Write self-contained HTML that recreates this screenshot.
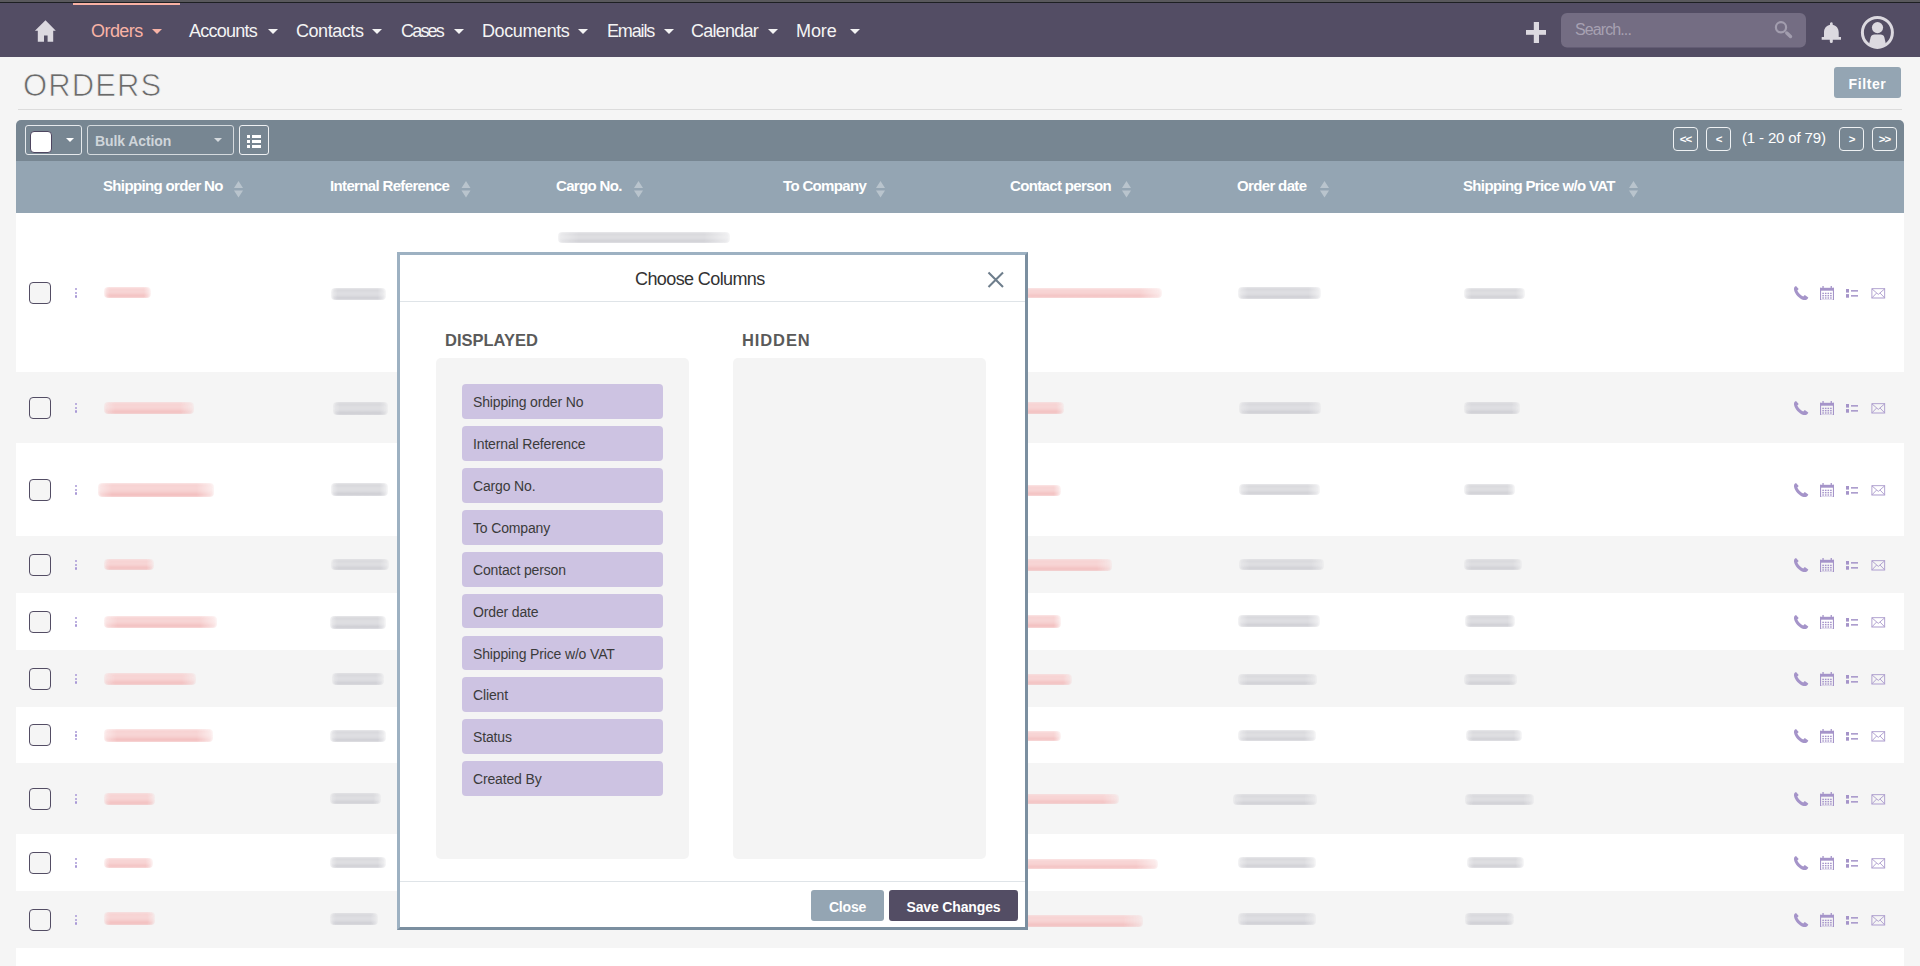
<!DOCTYPE html>
<html><head><meta charset="utf-8">
<style>
*{box-sizing:border-box;margin:0;padding:0}
html,body{width:1920px;height:966px;overflow:hidden;background:#f5f5f5;font-family:"Liberation Sans",sans-serif;position:relative}
.abs{position:absolute}
#topstrip{left:0;top:0;width:1920px;height:3px;background:linear-gradient(180deg,#59585c 0,#59585c 2px,#1d1f22 2px)}
#nav{left:0;top:3px;width:1920px;height:54px;background:#534d64}
.nv{position:absolute;top:20px;font-size:18px;color:#f4f4f4;letter-spacing:-0.75px;line-height:22px;white-space:nowrap}
.car{position:absolute;top:29px;width:0;height:0;border-left:5px solid transparent;border-right:5px solid transparent;border-top:5px solid #f4f4f4}
#title{left:23px;top:68px;font-size:31px;color:#6a6a6a;letter-spacing:1.1px;line-height:36px;font-weight:400;-webkit-text-stroke:0.7px #f5f5f5}
#hr{left:18px;top:109px;width:1884px;height:1px;background:#dcdcdc}
#filter{left:1834px;top:67px;width:67px;height:31px;background:#94a5b3;border-radius:3px;color:#fff;font-weight:700;font-size:14px;letter-spacing:.6px;text-align:center;line-height:34px}
#toolbar{left:16px;top:120px;width:1888px;height:41px;background:#778692;border-radius:5px 5px 0 0}
#thead{left:16px;top:161px;width:1888px;height:52px;background:#94a5b3}
.th{position:absolute;top:176px;font-size:15px;font-weight:700;color:#fff;letter-spacing:-0.65px;line-height:20px;white-space:nowrap}
.sort{position:absolute;top:181px;width:10px;height:17px}
.row{position:absolute;left:16px;width:1888px}
.cb{position:absolute;left:29px;width:22px;height:22px;border:1.6px solid #534d64;border-radius:4px;background:#f5f5f5}
.dots{position:absolute;left:75px;width:3px}
.dots i{display:block;width:2.4px;height:2.4px;border-radius:50%;background:#a999d6;margin-bottom:1.35px}
.blur{position:absolute;border-radius:4px;filter:blur(1.5px);-webkit-mask-image:linear-gradient(90deg,rgba(0,0,0,.55),#000 12%,#000 85%,rgba(0,0,0,.4))}
.pk{background:linear-gradient(180deg,#f6cccc 0%,#f8d8d8 40%,#f5caca 72%,#eeaaaa 100%)}
.gy{background:linear-gradient(180deg,#cfcfd4 0%,#e0e0e3 40%,#dcdce0 70%,#b9b9c1 100%)}
.pg{position:absolute;top:127px;width:25px;height:24px;border:1px solid #eef1f3;border-radius:4px;color:#fff;font-size:11.5px;font-weight:700;text-align:center;line-height:23px;letter-spacing:-1px}
.acts{position:absolute;left:1793px;width:95px;height:16px}
.it{position:absolute;left:462px;width:201px;height:34.8px;background:#cdc3e2;border-radius:4px;color:#3b3b3b;font-size:14px;letter-spacing:-0.15px;line-height:37.5px;padding-left:11px;white-space:nowrap}
#modal{left:397px;top:252px;width:631px;height:678px;background:#fff;border:3px solid;border-color:#9db1c2 #7b8fa0 #7b8fa0 #9db1c2}
</style></head><body>
<div id="topstrip" class="abs"></div>
<div id="nav" class="abs"></div>
<div class="abs" style="left:73px;top:3px;width:107px;height:2px;background:#f8b1a4"></div>
<svg class="abs" style="left:0;top:0" width="70" height="57" viewBox="0 0 70 57"><path d="M45.5 20.3 L34.9 30.8 L37.8 30.8 L37.8 41.8 L44 41.8 L44 35.4 L47.6 35.4 L47.6 41.8 L53.2 41.8 L53.2 30.8 L55.8 30.8 Z" fill="#dcd9e0"/></svg>
<div class="nv" style="left:91px;color:#f8b3a6;letter-spacing:-0.55px">Orders</div><div class="car" style="left:152px;border-top-color:#f8b3a6"></div>
<div class="nv" style="left:189px">Accounts</div><div class="car" style="left:268px"></div>
<div class="nv" style="left:296px;letter-spacing:-0.45px">Contacts</div><div class="car" style="left:372px"></div>
<div class="nv" style="left:401px;letter-spacing:-1.8px">Cases</div><div class="car" style="left:454px"></div>
<div class="nv" style="left:482px;letter-spacing:-0.4px">Documents</div><div class="car" style="left:578px"></div>
<div class="nv" style="left:607px;letter-spacing:-1.15px">Emails</div><div class="car" style="left:664px"></div>
<div class="nv" style="left:691px">Calendar</div><div class="car" style="left:768px"></div>
<div class="nv" style="left:796px;letter-spacing:-0.1px">More</div><div class="car" style="left:850px"></div>
<svg class="abs" style="left:1500px;top:0" width="420" height="57" viewBox="1500 0 420 57">
<rect x="1533.8" y="22" width="5.2" height="21" fill="#dcd9e0"/><rect x="1526" y="30" width="20" height="4.8" fill="#dcd9e0"/>
<rect x="1561" y="13" width="245" height="34.5" rx="6" fill="#746d83"/>
<circle cx="1781" cy="27.3" r="5.1" fill="none" stroke="#a29dae" stroke-width="2.2"/>
<line x1="1786.8" y1="33" x2="1790.5" y2="36.5" stroke="#a29dae" stroke-width="3.4" stroke-linecap="round"/>
<path d="M1831.3 22.2 a1.4 1.4 0 0 1 1.4 1.4 v1.2 c3.6 0.8 6 3.6 6 7.6 v4.6 h2.3 v2.8 h-8.2 v1.6 a1.5 1.5 0 0 1 -3 0 v-1.6 h-8.1 v-2.8 h2.3 v-4.6 c0 -4 2.4 -6.8 6 -7.6 v-1.2 a1.4 1.4 0 0 1 1.3 -1.4z" fill="#dcd9e0"/>
<circle cx="1877.4" cy="32.4" r="15" fill="none" stroke="#dcd9e0" stroke-width="3"/>
<circle cx="1877.5" cy="27.6" r="5.6" fill="#dcd9e0"/>
<path d="M1869 44.5 L1870.6 37.5 C1871.2 35.5 1872.5 34.6 1874.5 34.6 H1880.5 C1882.5 34.6 1883.8 35.5 1884.4 37.5 L1886 44.5 C1883 47 1880.5 47.8 1877.5 47.8 C1874.5 47.8 1872 47 1869 44.5 Z" fill="#dcd9e0"/>
</svg>
<div class="abs" style="left:1575px;top:20px;font-size:16px;color:#a7a1b2;letter-spacing:-0.9px;line-height:20px">Search...</div>
<div id="title" class="abs">ORDERS</div>
<div id="hr" class="abs"></div>
<div id="filter" class="abs">Filter</div>
<div id="toolbar" class="abs"></div>
<div class="abs" style="left:25px;top:125px;width:57px;height:30px;border:1px solid #e6e9ec;border-radius:3px"></div>
<div class="abs" style="left:30px;top:131px;width:22px;height:22px;background:#fff;border:1px solid #4e4660;border-radius:4px"></div>
<div class="abs" style="left:66px;top:138px;width:0;height:0;border-left:4px solid transparent;border-right:4px solid transparent;border-top:4px solid #fff"></div>
<div class="abs" style="left:87px;top:125px;width:147px;height:30px;border:1px solid #d5dade;border-radius:3px"></div>
<div class="abs" style="left:95px;top:132px;font-size:14px;font-weight:700;color:#cfd5da;letter-spacing:-0.1px;line-height:18px;white-space:nowrap">Bulk Action</div>
<div class="abs" style="left:214px;top:138px;width:0;height:0;border-left:4px solid transparent;border-right:4px solid transparent;border-top:4px solid #d5dade"></div>
<div class="abs" style="left:239px;top:125px;width:30px;height:30px;border:1px solid #eef0f2;border-radius:3px"></div>
<svg class="abs" style="left:0;top:0" width="280" height="160" viewBox="0 0 280 160" fill="#fff">
<rect x="247" y="135" width="3" height="3"/><rect x="252" y="135" width="9" height="3"/>
<rect x="247" y="140" width="3" height="3"/><rect x="252" y="140" width="9" height="3"/>
<rect x="247" y="145" width="3" height="3"/><rect x="252" y="145" width="9" height="3"/>
</svg>
<div class="pg" style="left:1673px">&lt;&lt;</div>
<div class="pg" style="left:1706px">&lt;</div>
<div class="abs" style="left:1742px;top:129px;font-size:15px;color:#fff;letter-spacing:-0.15px;line-height:18px;white-space:nowrap">(1 - 20 of 79)</div>
<div class="pg" style="left:1839px">&gt;</div>
<div class="pg" style="left:1872px">&gt;&gt;</div>
<div id="thead" class="abs"></div>
<div class="th" style="left:103px">Shipping order No</div>
<div class="th" style="left:330px">Internal Reference</div>
<div class="th" style="left:556px">Cargo No.</div>
<div class="th" style="left:783px">To Company</div>
<div class="th" style="left:1010px">Contact person</div>
<div class="th" style="left:1237px">Order date</div>
<div class="th" style="left:1463px">Shipping Price w/o VAT</div>
<svg class="abs" style="left:0;top:161px" width="1920" height="52" viewBox="0 161 1920 52" fill="#b9c4cd">
<defs><g id="srt"><path d="M0 188 L4.5 181 L9 188Z M0 190.5 L9 190.5 L4.5 197.5Z"/></g></defs>
<use href="#srt" x="234"/><use href="#srt" x="461.5"/><use href="#srt" x="634"/><use href="#srt" x="876"/><use href="#srt" x="1122"/><use href="#srt" x="1320"/><use href="#srt" x="1629"/>
</svg>
<svg width="0" height="0" style="position:absolute"><defs>
<g id="acticons" fill="#a594c9" transform="translate(0 0.5)">
<path d="M3 1.5 C1.6 2 0.8 3.2 1 5 C1.6 9.5 6.5 14.6 11 15.6 C12.8 16 14.3 15.1 15 13.7 L15.3 12.9 L11.8 10.6 L10.2 12.1 C8 11.1 5.2 8.2 4.3 6 L5.7 4.4 Z"/>
<rect x="27" y="3.3" width="14" height="2.9"/><rect x="27" y="3.3" width="1.1" height="12.9"/><rect x="39.9" y="3.3" width="1.1" height="12.9"/><rect x="27" y="15.2" width="14" height="1.05"/>
<rect x="29.4" y="1.5" width="1.3" height="2.6"/><rect x="37.6" y="1.5" width="1.3" height="2.6"/>
<rect x="29.3" y="8.2" width="1.6" height="1.4"/><rect x="31.9" y="8.2" width="1.6" height="1.4"/><rect x="34.5" y="8.2" width="1.6" height="1.4"/><rect x="37.1" y="8.2" width="1.6" height="1.4"/><rect x="29.3" y="10.5" width="1.6" height="1.4"/><rect x="31.9" y="10.5" width="1.6" height="1.4"/><rect x="34.5" y="10.5" width="1.6" height="1.4"/><rect x="37.1" y="10.5" width="1.6" height="1.4"/><rect x="29.3" y="12.8" width="1.6" height="1.4"/><rect x="31.9" y="12.8" width="1.6" height="1.4"/><rect x="34.5" y="12.8" width="1.6" height="1.4"/><rect x="37.1" y="12.8" width="1.6" height="1.4"/>
<rect x="53" y="4.5" width="3" height="3.6"/><rect x="53" y="9.6" width="3" height="3.6"/>
<rect x="58" y="5.6" width="7" height="1.5"/><rect x="58" y="10.6" width="7" height="1.5"/>
<rect x="78.9" y="4.2" width="12.8" height="9.3" fill="none" stroke="#a594c9" stroke-width="0.85"/>
<rect x="78.5" y="13" width="13.6" height="0.9" fill="#cfc6e3"/>
<path d="M79 4.4 L85.3 9.9 L91.6 4.4" fill="none" stroke="#a594c9" stroke-width="0.85"/>
<path d="M79 13.3 L83.5 8.6 M91.6 13.3 L87.1 8.6" fill="none" stroke="#a594c9" stroke-width="0.85"/>
</g></defs></svg>

<div id="rows">
<div class="abs" style="left:16px;top:213px;width:1888px;height:159px;background:#fff"></div>
<div class="abs" style="left:16px;top:372px;width:1888px;height:71px;background:#f5f5f5"></div>
<div class="abs" style="left:16px;top:443px;width:1888px;height:93px;background:#fff"></div>
<div class="abs" style="left:16px;top:536px;width:1888px;height:57px;background:#f5f5f5"></div>
<div class="abs" style="left:16px;top:593px;width:1888px;height:57px;background:#fff"></div>
<div class="abs" style="left:16px;top:650px;width:1888px;height:57px;background:#f5f5f5"></div>
<div class="abs" style="left:16px;top:707px;width:1888px;height:56px;background:#fff"></div>
<div class="abs" style="left:16px;top:763px;width:1888px;height:71px;background:#f5f5f5"></div>
<div class="abs" style="left:16px;top:834px;width:1888px;height:57px;background:#fff"></div>
<div class="abs" style="left:16px;top:891px;width:1888px;height:57px;background:#f5f5f5"></div>
<div class="abs" style="left:16px;top:948px;width:1888px;height:18px;background:#fff"></div>
<div class="cb" style="top:281.5px"></div>
<div class="dots" style="top:288.0px"><i></i><i></i><i></i></div>
<div class="acts" style="top:284px"><svg width="95" height="16" viewBox="0 0 95 16"><use href="#acticons"/></svg></div>
<div class="cb" style="top:396.5px"></div>
<div class="dots" style="top:403.0px"><i></i><i></i><i></i></div>
<div class="acts" style="top:399px"><svg width="95" height="16" viewBox="0 0 95 16"><use href="#acticons"/></svg></div>
<div class="cb" style="top:478.5px"></div>
<div class="dots" style="top:485.0px"><i></i><i></i><i></i></div>
<div class="acts" style="top:481px"><svg width="95" height="16" viewBox="0 0 95 16"><use href="#acticons"/></svg></div>
<div class="cb" style="top:553.5px"></div>
<div class="dots" style="top:560.0px"><i></i><i></i><i></i></div>
<div class="acts" style="top:556px"><svg width="95" height="16" viewBox="0 0 95 16"><use href="#acticons"/></svg></div>
<div class="cb" style="top:610.5px"></div>
<div class="dots" style="top:617.0px"><i></i><i></i><i></i></div>
<div class="acts" style="top:613px"><svg width="95" height="16" viewBox="0 0 95 16"><use href="#acticons"/></svg></div>
<div class="cb" style="top:667.5px"></div>
<div class="dots" style="top:674.0px"><i></i><i></i><i></i></div>
<div class="acts" style="top:670px"><svg width="95" height="16" viewBox="0 0 95 16"><use href="#acticons"/></svg></div>
<div class="cb" style="top:724.0px"></div>
<div class="dots" style="top:730.5px"><i></i><i></i><i></i></div>
<div class="acts" style="top:727px"><svg width="95" height="16" viewBox="0 0 95 16"><use href="#acticons"/></svg></div>
<div class="cb" style="top:787.5px"></div>
<div class="dots" style="top:794.0px"><i></i><i></i><i></i></div>
<div class="acts" style="top:790px"><svg width="95" height="16" viewBox="0 0 95 16"><use href="#acticons"/></svg></div>
<div class="cb" style="top:851.5px"></div>
<div class="dots" style="top:858.0px"><i></i><i></i><i></i></div>
<div class="acts" style="top:854px"><svg width="95" height="16" viewBox="0 0 95 16"><use href="#acticons"/></svg></div>
<div class="cb" style="top:908.5px"></div>
<div class="dots" style="top:915.0px"><i></i><i></i><i></i></div>
<div class="acts" style="top:911px"><svg width="95" height="16" viewBox="0 0 95 16"><use href="#acticons"/></svg></div>
<div class="blur pk" style="left:104px;top:286.5px;width:47px;height:11px"></div>
<div class="blur gy" style="left:331px;top:287.5px;width:55px;height:12px"></div>
<div class="blur pk" style="left:1013px;top:287.5px;width:149px;height:10px"></div>
<div class="blur gy" style="left:1238px;top:286.5px;width:83px;height:12px"></div>
<div class="blur gy" style="left:1464px;top:287.5px;width:61px;height:11px"></div>
<div class="blur gy" style="left:558px;top:231.5px;width:172px;height:11px"></div>
<div class="blur pk" style="left:104px;top:401.5px;width:90px;height:12px"></div>
<div class="blur gy" style="left:333px;top:401.5px;width:55px;height:13px"></div>
<div class="blur pk" style="left:1013px;top:401.5px;width:51px;height:12px"></div>
<div class="blur gy" style="left:1239px;top:401.5px;width:82px;height:12px"></div>
<div class="blur gy" style="left:1464px;top:401.5px;width:56px;height:12px"></div>
<div class="blur pk" style="left:98px;top:482.5px;width:116px;height:14px"></div>
<div class="blur gy" style="left:331px;top:482.5px;width:57px;height:13px"></div>
<div class="blur pk" style="left:1013px;top:484.5px;width:48px;height:11px"></div>
<div class="blur gy" style="left:1239px;top:483.5px;width:81px;height:11px"></div>
<div class="blur gy" style="left:1464px;top:483.5px;width:51px;height:11px"></div>
<div class="blur pk" style="left:104px;top:558.5px;width:50px;height:11px"></div>
<div class="blur gy" style="left:331px;top:558.5px;width:58px;height:11px"></div>
<div class="blur pk" style="left:1013px;top:558.5px;width:99px;height:12px"></div>
<div class="blur gy" style="left:1239px;top:558.5px;width:85px;height:11px"></div>
<div class="blur gy" style="left:1464px;top:558.5px;width:58px;height:11px"></div>
<div class="blur pk" style="left:104px;top:615.5px;width:113px;height:12px"></div>
<div class="blur gy" style="left:330px;top:615.5px;width:56px;height:13px"></div>
<div class="blur pk" style="left:1013px;top:614.5px;width:48px;height:13px"></div>
<div class="blur gy" style="left:1238px;top:614.5px;width:82px;height:12px"></div>
<div class="blur gy" style="left:1465px;top:614.5px;width:50px;height:12px"></div>
<div class="blur pk" style="left:104px;top:672.5px;width:92px;height:12px"></div>
<div class="blur gy" style="left:332px;top:672.5px;width:52px;height:12px"></div>
<div class="blur pk" style="left:1013px;top:673.5px;width:59px;height:11px"></div>
<div class="blur gy" style="left:1238px;top:673.5px;width:79px;height:11px"></div>
<div class="blur gy" style="left:1464px;top:673.5px;width:53px;height:11px"></div>
<div class="blur pk" style="left:104px;top:728.5px;width:109px;height:13px"></div>
<div class="blur gy" style="left:330px;top:729.5px;width:56px;height:12px"></div>
<div class="blur pk" style="left:1013px;top:730.5px;width:48px;height:10px"></div>
<div class="blur gy" style="left:1238px;top:729.5px;width:78px;height:11px"></div>
<div class="blur gy" style="left:1466px;top:729.5px;width:56px;height:11px"></div>
<div class="blur pk" style="left:104px;top:792.5px;width:51px;height:12px"></div>
<div class="blur gy" style="left:330px;top:792.5px;width:51px;height:11px"></div>
<div class="blur pk" style="left:1013px;top:793.5px;width:106px;height:10px"></div>
<div class="blur gy" style="left:1233px;top:793.5px;width:84px;height:11px"></div>
<div class="blur gy" style="left:1465px;top:793.5px;width:69px;height:11px"></div>
<div class="blur pk" style="left:104px;top:857.5px;width:49px;height:10px"></div>
<div class="blur gy" style="left:330px;top:856.5px;width:56px;height:11px"></div>
<div class="blur pk" style="left:1013px;top:858.5px;width:145px;height:10px"></div>
<div class="blur gy" style="left:1238px;top:856.5px;width:78px;height:11px"></div>
<div class="blur gy" style="left:1467px;top:856.5px;width:57px;height:11px"></div>
<div class="blur pk" style="left:104px;top:911.5px;width:51px;height:13px"></div>
<div class="blur gy" style="left:330px;top:912.5px;width:48px;height:12px"></div>
<div class="blur pk" style="left:1013px;top:914.5px;width:130px;height:12px"></div>
<div class="blur gy" style="left:1238px;top:912.5px;width:78px;height:12px"></div>
<div class="blur gy" style="left:1465px;top:912.5px;width:49px;height:12px"></div>
</div>
<div id="modal" class="abs"></div>
<div class="abs" style="left:635px;top:268px;font-size:18px;color:#333;letter-spacing:-0.6px;line-height:22px;white-space:nowrap">Choose Columns</div>
<svg class="abs" style="left:985px;top:269px" width="22" height="22" viewBox="985 269 22 22"><path d="M988.5 272.5 L1003 287 M1003 272.5 L988.5 287" stroke="#6e7e8c" stroke-width="2.1"/></svg>
<div class="abs" style="left:400px;top:301px;width:625px;height:1px;background:#dfe4e8"></div>
<div class="abs" style="left:445px;top:330px;font-size:16.5px;font-weight:700;color:#5a5a5a;line-height:20px;white-space:nowrap">DISPLAYED</div>
<div class="abs" style="left:742px;top:330px;font-size:16.5px;font-weight:700;color:#5a5a5a;letter-spacing:0.9px;line-height:20px;white-space:nowrap">HIDDEN</div>
<div class="abs" style="left:436px;top:358px;width:253px;height:501px;background:#f4f4f4;border-radius:5px"></div>
<div class="abs" style="left:733px;top:358px;width:253px;height:501px;background:#f4f4f4;border-radius:5px"></div>
<div class="it" style="top:384.30px">Shipping order No</div>
<div class="it" style="top:426.17px">Internal Reference</div>
<div class="it" style="top:468.04px">Cargo No.</div>
<div class="it" style="top:509.91px">To Company</div>
<div class="it" style="top:551.78px">Contact person</div>
<div class="it" style="top:593.65px">Order date</div>
<div class="it" style="top:635.52px">Shipping Price w/o VAT</div>
<div class="it" style="top:677.39px">Client</div>
<div class="it" style="top:719.26px">Status</div>
<div class="it" style="top:761.13px">Created By</div>
<div class="abs" style="left:400px;top:881px;width:625px;height:1px;background:#dfe4e8"></div>
<div class="abs" style="left:811px;top:890px;width:73px;height:31px;background:#94a5b3;border-radius:3px;color:#fff;font-size:14px;font-weight:700;letter-spacing:-0.2px;line-height:34px;text-align:center">Close</div>
<div class="abs" style="left:889px;top:890px;width:129px;height:31px;background:#534d64;border-radius:3px;color:#fff;font-size:14px;font-weight:700;letter-spacing:-0.15px;line-height:34px;text-align:center">Save Changes</div>

</body></html>
